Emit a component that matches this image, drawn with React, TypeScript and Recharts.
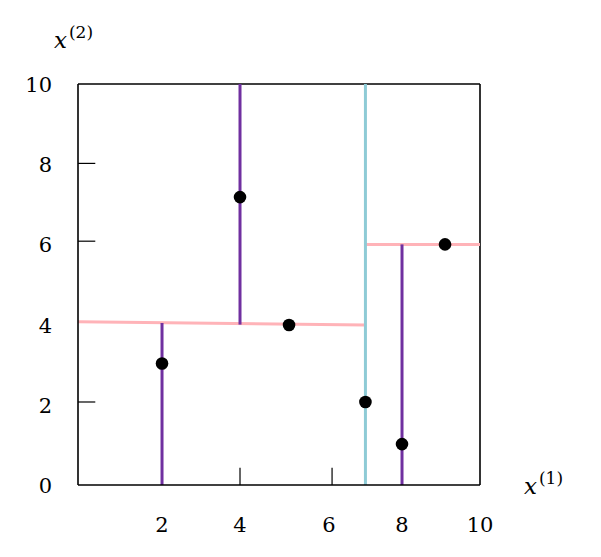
import React from "react";
import {
  ScatterChart,
  Scatter,
  XAxis,
  YAxis,
  ReferenceLine,
  Label,
} from "recharts";

// tick labels (positions)
const xTickAt = [2.09, 4.03, 6.24, 8.06, 10];
const xTickText = ["2", "4", "6", "8", "10"];
const yTickAt = [0, 2, 4, 6, 8, 10];
const yTickText = ["0", "2", "4", "6", "8", "10"];

// small inward tick marks
const xMarkAt = [4.03, 6.32];
const yMarkAt = [2.07, 6.08, 8.02];
const markLen = 0.43;

// the points
const pointX = [2.09, 4.03, 5.25, 7.15, 8.06, 9.13];
const pointY = [3.03, 7.18, 3.99, 2.07, 1.02, 6.0];

// splitting lines, by depth
const rootSplit = [{ x1: 7.15, y1: 0, x2: 7.15, y2: 10 }];
const depth1Split = [
  { x1: 0, y1: 4.07, x2: 7.15, y2: 3.99 },
  { x1: 7.15, y1: 6.0, x2: 10, y2: 6.0 },
];
const depth2Split = [
  { x1: 2.09, y1: 0, x2: 2.09, y2: 4.04 },
  { x1: 4.03, y1: 4.0, x2: 4.03, y2: 10 },
  { x1: 8.06, y1: 0, x2: 8.06, y2: 6.0 },
];

const points = pointX.map((x, i) => ({ x, y: pointY[i] }));

const FONT = "'DejaVu Serif', serif";
const PINK = "#ffb3b8";
const PURPLE = "#7030a0";
const CYAN = "#8ecbd6";

const XTick = (props: any) => {
  const { x, y, payload } = props;
  const i = xTickAt.indexOf(payload.value);
  return (
    <text
      x={x}
      y={y + 45}
      textAnchor="middle"
      fontFamily={FONT}
      fontSize={21}
      fill="#000"
    >
      {xTickText[i]}
    </text>
  );
};

const YTick = (props: any) => {
  const { y, payload } = props;
  const i = yTickAt.indexOf(payload.value);
  return (
    <text
      x={52}
      y={y + 8}
      textAnchor="end"
      fontFamily={FONT}
      fontSize={21}
      fill="#000"
    >
      {yTickText[i]}
    </text>
  );
};

const Dot = (props: any) => {
  const { cx, cy } = props;
  return <circle cx={cx} cy={cy} r={6.3} fill="#000" />;
};

const segLine = (s: any, color: string, key: string, w = 3) => (
  <ReferenceLine
    key={key}
    segment={[
      { x: s.x1, y: s.y1 },
      { x: s.x2, y: s.y2 },
    ]}
    stroke={color}
    strokeWidth={w}
    ifOverflow="visible"
  />
);

export default function App() {
  return (
    <div style={{ position: "absolute", left: 0, top: 0, background: "#fff" }}>
      <ScatterChart
        width={601}
        height={557}
        margin={{ top: 84, right: 121, bottom: 0, left: 0 }}
      >
        <XAxis
          type="number"
          dataKey="x"
          domain={[0, 10]}
          ticks={xTickAt}
          tick={<XTick />}
          tickLine={false}
          tickSize={0}
          height={72}
          axisLine={{ stroke: "#000", strokeWidth: 1.6 }}
          interval={0}
        >
          <Label
            content={() => (
              <text x={524} y={494} fontFamily={FONT} fill="#000">
                <tspan fontSize={23} fontStyle="italic">x</tspan>
                <tspan fontSize={17} dy={-10} dx={2}>(1)</tspan>
              </text>
            )}
          />
        </XAxis>
        <YAxis
          type="number"
          dataKey="y"
          domain={[0, 10]}
          ticks={yTickAt}
          tick={<YTick />}
          tickLine={false}
          tickSize={0}
          width={78}
          axisLine={{ stroke: "#000", strokeWidth: 1.6 }}
          interval={0}
        >
          <Label
            content={() => (
              <text x={54} y={48} fontFamily={FONT} fill="#000">
                <tspan fontSize={23} fontStyle="italic">x</tspan>
                <tspan fontSize={17} dy={-10} dx={2}>(2)</tspan>
              </text>
            )}
          />
        </YAxis>

        {/* frame top and right */}
        <ReferenceLine y={10} stroke="#000" strokeWidth={1.6} ifOverflow="visible" />
        <ReferenceLine x={10} stroke="#000" strokeWidth={1.6} ifOverflow="visible" />

        {xMarkAt.map((v, i) =>
          segLine({ x1: v, y1: 0, x2: v, y2: markLen }, "#000", `xm${i}`, 1.2)
        )}
        {yMarkAt.map((v, i) =>
          segLine({ x1: 0, y1: v, x2: markLen, y2: v }, "#000", `ym${i}`, 1.2)
        )}

        {depth1Split.map((s, i) => segLine(s, PINK, `d1${i}`))}
        {depth2Split.map((s, i) => segLine(s, PURPLE, `d2${i}`))}
        {rootSplit.map((s, i) => segLine(s, CYAN, `r${i}`))}

        <Scatter
          data={points}
          shape={<Dot />}
          isAnimationActive={false}
        />
      </ScatterChart>
    </div>
  );
}
